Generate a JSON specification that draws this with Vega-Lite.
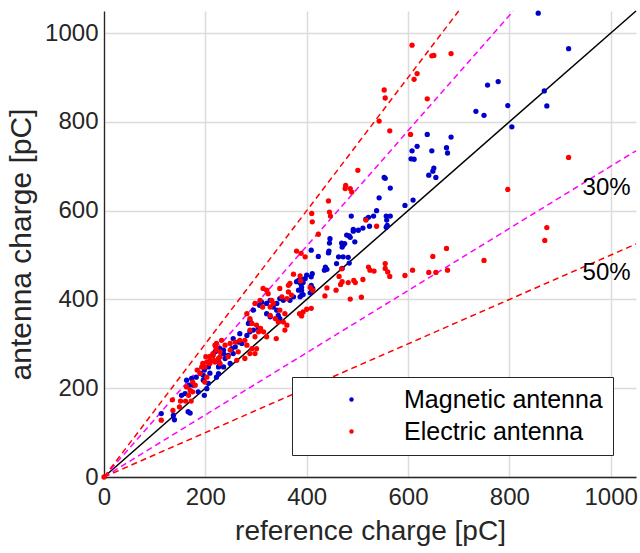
{
  "$schema": "https://vega.github.io/schema/vega-lite/v6.json",
  "width": 532,
  "height": 466,
  "autosize": {"type": "none"},
  "padding": {"left": 104, "top": 11, "right": 4, "bottom": 76},
  "background": "white",
  "config": {
    "view": {"stroke": null},
    "font": "Liberation Sans",
    "axis": {
      "labelFont": "Liberation Sans",
      "titleFont": "Liberation Sans",
      "labelFontSize": 24,
      "titleFontSize": 28,
      "titleFontWeight": "normal",
      "labelColor": "#262626",
      "titleColor": "#262626",
      "domainColor": "#262626",
      "domainWidth": 1.3,
      "gridColor": "#dcdcdc",
      "gridWidth": 1.5,
      "ticks": false
    },
    "legend": {
      "labelFont": "Liberation Sans"
    }
  },
  "datasets": {
    "lines": [
      {"id": "ident", "ref": 0, "ant": 0}, {"id": "ident", "ref": 1050, "ant": 1050},
      {"id": "p30", "ref": 0, "ant": 0}, {"id": "p30", "ref": 807.7, "ant": 1050},
      {"id": "m30", "ref": 0, "ant": 0}, {"id": "m30", "ref": 1050, "ant": 735},
      {"id": "p50", "ref": 0, "ant": 0}, {"id": "p50", "ref": 700, "ant": 1050},
      {"id": "m50", "ref": 0, "ant": 0}, {"id": "m50", "ref": 1050, "ant": 525}
    ],
    "labels": [
      {"ref": 992, "ant": 635, "text": "30%"},
      {"ref": 992, "ant": 443, "text": "50%"}
    ],
    "magnetic": [
      {"ref": 857, "ant": 1045}, {"ref": 917, "ant": 965}, {"ref": 757, "ant": 883}, {"ref": 778, "ant": 891},
      {"ref": 869, "ant": 870}, {"ref": 874, "ant": 836}, {"ref": 797, "ant": 837}, {"ref": 734, "ant": 824},
      {"ref": 750, "ant": 815}, {"ref": 805, "ant": 789}, {"ref": 638, "ant": 772}, {"ref": 685, "ant": 766},
      {"ref": 618, "ant": 745}, {"ref": 608, "ant": 735}, {"ref": 647, "ant": 735}, {"ref": 676, "ant": 742},
      {"ref": 678, "ant": 730}, {"ref": 606, "ant": 717}, {"ref": 612, "ant": 716}, {"ref": 651, "ant": 696},
      {"ref": 649, "ant": 689}, {"ref": 641, "ant": 680}, {"ref": 655, "ant": 675}, {"ref": 553, "ant": 675},
      {"ref": 555, "ant": 673}, {"ref": 565, "ant": 651}, {"ref": 543, "ant": 629}, {"ref": 610, "ant": 624},
      {"ref": 594, "ant": 612}, {"ref": 488, "ant": 588}, {"ref": 538, "ant": 600}, {"ref": 532, "ant": 588},
      {"ref": 522, "ant": 585}, {"ref": 517, "ant": 581}, {"ref": 557, "ant": 588}, {"ref": 565, "ant": 588},
      {"ref": 558, "ant": 579}, {"ref": 524, "ant": 565}, {"ref": 511, "ant": 561}, {"ref": 492, "ant": 558},
      {"ref": 559, "ant": 567}, {"ref": 557, "ant": 563}, {"ref": 502, "ant": 556}, {"ref": 492, "ant": 554},
      {"ref": 484, "ant": 543}, {"ref": 479, "ant": 545}, {"ref": 486, "ant": 540}, {"ref": 495, "ant": 530},
      {"ref": 446, "ant": 537}, {"ref": 445, "ant": 527}, {"ref": 444, "ant": 509}, {"ref": 443, "ant": 505},
      {"ref": 423, "ant": 497}, {"ref": 409, "ant": 511}, {"ref": 470, "ant": 518}, {"ref": 475, "ant": 526},
      {"ref": 469, "ant": 527}, {"ref": 472, "ant": 522}, {"ref": 463, "ant": 496}, {"ref": 472, "ant": 496},
      {"ref": 482, "ant": 495}, {"ref": 484, "ant": 482}, {"ref": 459, "ant": 481}, {"ref": 470, "ant": 470},
      {"ref": 437, "ant": 473}, {"ref": 440, "ant": 468}, {"ref": 435, "ant": 466}, {"ref": 411, "ant": 458},
      {"ref": 409, "ant": 451}, {"ref": 400, "ant": 455}, {"ref": 397, "ant": 447}, {"ref": 390, "ant": 445},
      {"ref": 384, "ant": 443}, {"ref": 388, "ant": 436}, {"ref": 393, "ant": 438}, {"ref": 380, "ant": 440},
      {"ref": 409, "ant": 432}, {"ref": 410, "ant": 421}, {"ref": 407, "ant": 415}, {"ref": 412, "ant": 425},
      {"ref": 390, "ant": 421}, {"ref": 393, "ant": 411}, {"ref": 387, "ant": 406}, {"ref": 390, "ant": 410},
      {"ref": 374, "ant": 406}, {"ref": 367, "ant": 398}, {"ref": 354, "ant": 398}, {"ref": 347, "ant": 402},
      {"ref": 341, "ant": 391}, {"ref": 334, "ant": 383}, {"ref": 384, "ant": 421}, {"ref": 390, "ant": 428},
      {"ref": 295, "ant": 376}, {"ref": 288, "ant": 353}, {"ref": 285, "ant": 346}, {"ref": 307, "ant": 387},
      {"ref": 311, "ant": 394}, {"ref": 321, "ant": 391}, {"ref": 328, "ant": 398}, {"ref": 341, "ant": 376},
      {"ref": 321, "ant": 368}, {"ref": 328, "ant": 361}, {"ref": 344, "ant": 364}, {"ref": 347, "ant": 357},
      {"ref": 288, "ant": 327}, {"ref": 295, "ant": 331}, {"ref": 305, "ant": 335}, {"ref": 282, "ant": 319},
      {"ref": 268, "ant": 323}, {"ref": 255, "ant": 312}, {"ref": 265, "ant": 304}, {"ref": 272, "ant": 301},
      {"ref": 259, "ant": 293}, {"ref": 252, "ant": 289}, {"ref": 236, "ant": 286}, {"ref": 229, "ant": 289},
      {"ref": 219, "ant": 282}, {"ref": 236, "ant": 278}, {"ref": 245, "ant": 274}, {"ref": 255, "ant": 278},
      {"ref": 239, "ant": 267}, {"ref": 226, "ant": 263}, {"ref": 209, "ant": 259}, {"ref": 228, "ant": 252},
      {"ref": 236, "ant": 248}, {"ref": 249, "ant": 256}, {"ref": 206, "ant": 248},
      {"ref": 113, "ant": 143}, {"ref": 137, "ant": 139}, {"ref": 139, "ant": 129}, {"ref": 166, "ant": 147},
      {"ref": 170, "ant": 144}, {"ref": 153, "ant": 184}, {"ref": 160, "ant": 188}, {"ref": 163, "ant": 218},
      {"ref": 173, "ant": 222}, {"ref": 168, "ant": 207}, {"ref": 176, "ant": 207}, {"ref": 182, "ant": 225},
      {"ref": 190, "ant": 234}, {"ref": 196, "ant": 229}, {"ref": 198, "ant": 241}, {"ref": 198, "ant": 184},
      {"ref": 203, "ant": 199}, {"ref": 206, "ant": 211}, {"ref": 186, "ant": 192}, {"ref": 196, "ant": 218},
      {"ref": 209, "ant": 234}, {"ref": 215, "ant": 274}, {"ref": 221, "ant": 284}, {"ref": 226, "ant": 248},
      {"ref": 226, "ant": 233}, {"ref": 222, "ant": 225}
    ],
    "electric": [
      {"ref": 0, "ant": 0},
      {"ref": 608, "ant": 973}, {"ref": 647, "ant": 949}, {"ref": 651, "ant": 950}, {"ref": 685, "ant": 954},
      {"ref": 618, "ant": 909}, {"ref": 612, "ant": 896}, {"ref": 553, "ant": 872}, {"ref": 555, "ant": 854},
      {"ref": 638, "ant": 852}, {"ref": 543, "ant": 802}, {"ref": 564, "ant": 780}, {"ref": 605, "ant": 772},
      {"ref": 501, "ant": 691}, {"ref": 477, "ant": 657}, {"ref": 476, "ant": 650}, {"ref": 486, "ant": 650},
      {"ref": 489, "ant": 642}, {"ref": 443, "ant": 622}, {"ref": 445, "ant": 597}, {"ref": 447, "ant": 588},
      {"ref": 410, "ant": 594}, {"ref": 411, "ant": 575}, {"ref": 517, "ant": 579}, {"ref": 538, "ant": 565},
      {"ref": 917, "ant": 720}, {"ref": 797, "ant": 648}, {"ref": 874, "ant": 562}, {"ref": 870, "ant": 533},
      {"ref": 676, "ant": 515}, {"ref": 649, "ant": 497}, {"ref": 750, "ant": 488}, {"ref": 555, "ant": 481},
      {"ref": 555, "ant": 470}, {"ref": 560, "ant": 462}, {"ref": 564, "ant": 452}, {"ref": 522, "ant": 473},
      {"ref": 525, "ant": 466}, {"ref": 533, "ant": 464}, {"ref": 594, "ant": 454}, {"ref": 609, "ant": 466},
      {"ref": 641, "ant": 461}, {"ref": 655, "ant": 461}, {"ref": 678, "ant": 466}, {"ref": 469, "ant": 469},
      {"ref": 464, "ant": 452}, {"ref": 470, "ant": 440}, {"ref": 467, "ant": 434}, {"ref": 482, "ant": 438},
      {"ref": 493, "ant": 443}, {"ref": 496, "ant": 438}, {"ref": 511, "ant": 445}, {"ref": 440, "ant": 426},
      {"ref": 458, "ant": 421}, {"ref": 436, "ant": 408}, {"ref": 486, "ant": 401}, {"ref": 508, "ant": 405},
      {"ref": 423, "ant": 547}, {"ref": 380, "ant": 509}, {"ref": 389, "ant": 504}, {"ref": 397, "ant": 496},
      {"ref": 374, "ant": 457}, {"ref": 387, "ant": 453}, {"ref": 367, "ant": 436}, {"ref": 388, "ant": 442},
      {"ref": 407, "ant": 427}, {"ref": 412, "ant": 421}, {"ref": 409, "ant": 380}, {"ref": 400, "ant": 378},
      {"ref": 393, "ant": 372}, {"ref": 386, "ant": 368}, {"ref": 390, "ant": 363}, {"ref": 347, "ant": 425},
      {"ref": 314, "ant": 425}, {"ref": 321, "ant": 421}, {"ref": 331, "ant": 398}, {"ref": 334, "ant": 391},
      {"ref": 351, "ant": 406}, {"ref": 370, "ant": 410}, {"ref": 364, "ant": 417}, {"ref": 308, "ant": 398},
      {"ref": 298, "ant": 391}, {"ref": 324, "ant": 413}, {"ref": 364, "ant": 432}, {"ref": 361, "ant": 402},
      {"ref": 313, "ant": 383}, {"ref": 328, "ant": 383}, {"ref": 347, "ant": 376}, {"ref": 357, "ant": 368},
      {"ref": 328, "ant": 364}, {"ref": 338, "ant": 357}, {"ref": 344, "ant": 349}, {"ref": 354, "ant": 349},
      {"ref": 282, "ant": 368}, {"ref": 288, "ant": 357}, {"ref": 292, "ant": 346}, {"ref": 301, "ant": 342},
      {"ref": 309, "ant": 335}, {"ref": 288, "ant": 331}, {"ref": 305, "ant": 327}, {"ref": 315, "ant": 327},
      {"ref": 298, "ant": 316}, {"ref": 321, "ant": 316}, {"ref": 340, "ant": 312}, {"ref": 357, "ant": 331},
      {"ref": 361, "ant": 342}, {"ref": 222, "ant": 301}, {"ref": 232, "ant": 308}, {"ref": 239, "ant": 297},
      {"ref": 249, "ant": 301}, {"ref": 259, "ant": 304}, {"ref": 268, "ant": 308}, {"ref": 278, "ant": 308},
      {"ref": 282, "ant": 297}, {"ref": 292, "ant": 289}, {"ref": 301, "ant": 289}, {"ref": 298, "ant": 278},
      {"ref": 265, "ant": 282}, {"ref": 249, "ant": 286}, {"ref": 229, "ant": 282}, {"ref": 222, "ant": 286},
      {"ref": 215, "ant": 274}, {"ref": 229, "ant": 271}, {"ref": 245, "ant": 271}, {"ref": 262, "ant": 263},
      {"ref": 278, "ant": 267}, {"ref": 288, "ant": 278}, {"ref": 209, "ant": 263}, {"ref": 201, "ant": 271},
      {"ref": 199, "ant": 248}, {"ref": 229, "ant": 256}, {"ref": 219, "ant": 259},
      {"ref": 113, "ant": 128}, {"ref": 136, "ant": 150}, {"ref": 135, "ant": 174}, {"ref": 149, "ant": 158},
      {"ref": 151, "ant": 171}, {"ref": 161, "ant": 171}, {"ref": 172, "ant": 171}, {"ref": 167, "ant": 184},
      {"ref": 170, "ant": 195}, {"ref": 163, "ant": 203}, {"ref": 175, "ant": 214}, {"ref": 184, "ant": 241},
      {"ref": 193, "ant": 248}, {"ref": 175, "ant": 192}, {"ref": 180, "ant": 207}, {"ref": 190, "ant": 233},
      {"ref": 195, "ant": 256}, {"ref": 203, "ant": 259}, {"ref": 209, "ant": 272}, {"ref": 199, "ant": 214},
      {"ref": 203, "ant": 225}, {"ref": 209, "ant": 256}, {"ref": 219, "ant": 297}, {"ref": 221, "ant": 292},
      {"ref": 226, "ant": 267}, {"ref": 217, "ant": 263}, {"ref": 215, "ant": 278}
    ]
  },
  "encoding": {
    "x": {
      "field": "ref", "type": "quantitative",
      "scale": {"domain": [0, 1050], "nice": false},
      "axis": {"title": "reference charge [pC]", "format": "d", "values": [0, 200, 400, 600, 800, 1000], "labelPadding": 8, "titlePadding": 8, "labelFlush": false}
    },
    "y": {
      "field": "ant", "type": "quantitative",
      "scale": {"domain": [0, 1050], "nice": false},
      "axis": {"title": "antenna charge [pC]", "format": "d", "titleFontSize": 30, "values": [0, 200, 400, 600, 800, 1000], "labelPadding": 6, "titlePadding": 8, "labelFlush": false}
    }
  },
  "layer": [
    {
      "data": {"name": "lines"},
      "transform": [{"filter": "datum.id === 'ident'"}],
      "mark": {"type": "line", "color": "black", "strokeWidth": 1.5},
      "encoding": {"detail": {"field": "id"}}
    },
    {
      "data": {"name": "lines"},
      "transform": [{"filter": "datum.id === 'p30' || datum.id === 'm30'"}],
      "mark": {"type": "line", "color": "#FF00FF", "strokeWidth": 1.5, "strokeDash": [6, 4]},
      "encoding": {"detail": {"field": "id"}}
    },
    {
      "data": {"name": "lines"},
      "transform": [{"filter": "datum.id === 'p50' || datum.id === 'm50'"}],
      "mark": {"type": "line", "color": "#FF0000", "strokeWidth": 1.5, "strokeDash": [6, 4]},
      "encoding": {"detail": {"field": "id"}}
    },
    {
      "data": {"name": "magnetic"},
      "mark": {"type": "circle", "size": 28, "opacity": 1},
      "encoding": {
        "color": {
          "datum": "Magnetic antenna",
          "scale": {"domain": ["Magnetic antenna", "Electric antenna"], "range": ["#0000CC", "#FF0000"]},
          "legend": {
            "title": null,
            "orient": "none",
            "legendX": 188,
            "legendY": 366,
            "padding": 10,
            "strokeColor": "#262626",
            "fillColor": "white",
            "labelFontSize": 25,
            "labelColor": "black",
            "symbolSize": 20,
            "symbolType": "circle",
            "symbolOffset": 37,
            "labelOffset": 40,
            "rowPadding": 6,
            "labelLimit": 400
          }
        }
      }
    },
    {
      "data": {"name": "electric"},
      "mark": {"type": "circle", "size": 28, "opacity": 1},
      "encoding": {
        "color": {"datum": "Electric antenna"}
      }
    },
    {
      "data": {"name": "labels"},
      "mark": {"type": "text", "fontSize": 24, "align": "center", "baseline": "alphabetic", "color": "black", "font": "Liberation Sans"},
      "encoding": {"text": {"field": "text"}}
    }
  ]
}
